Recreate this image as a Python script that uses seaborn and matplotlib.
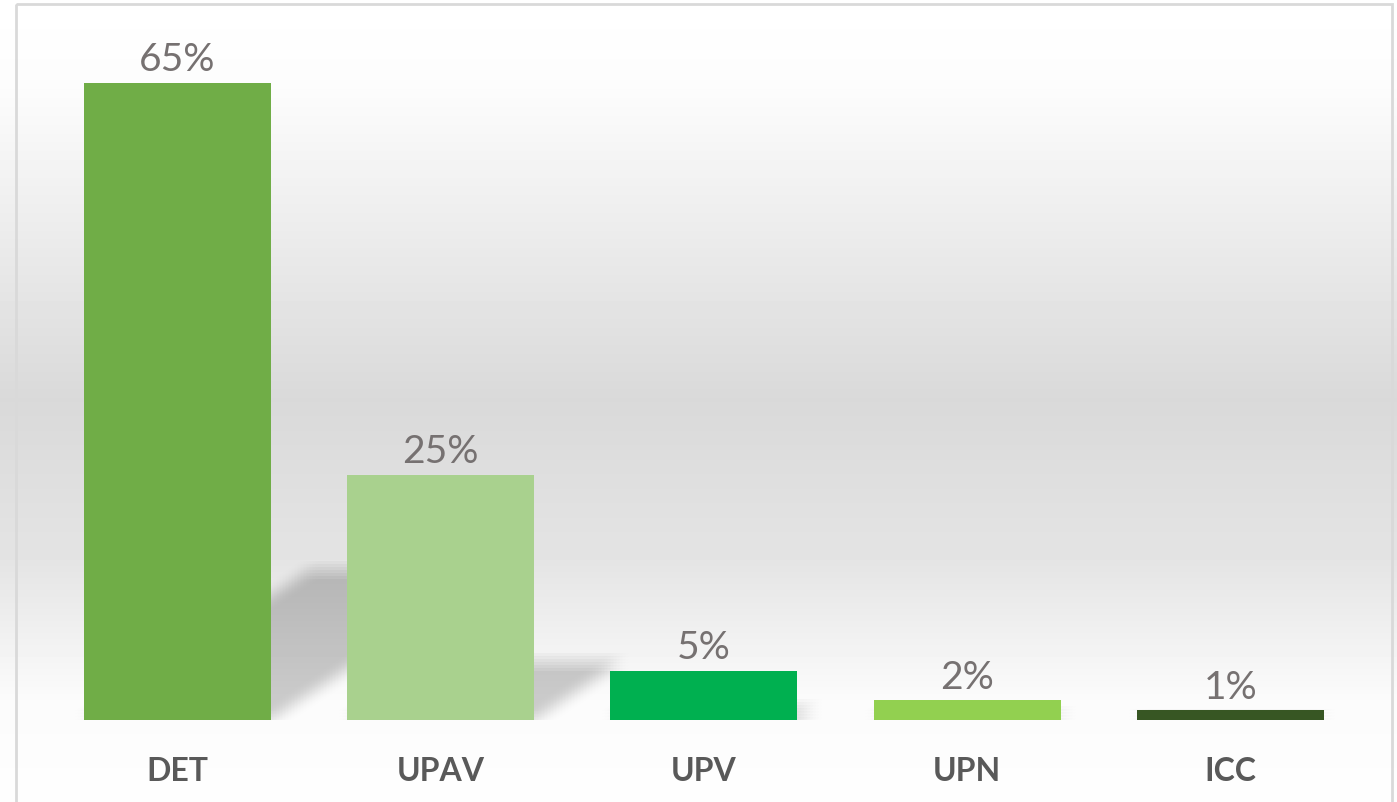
import numpy as np
import pandas as pd
import matplotlib
matplotlib.use('Agg')
import matplotlib.pyplot as plt
import matplotlib.transforms as mtransforms
from matplotlib.patches import Polygon, Rectangle
import seaborn as sns

# ---------------- DATOS ----------------
categorias = ['DET', 'UPAV', 'UPV', 'UPN', 'ICC']
porcentajes = [65, 25, 5, 2, 1]
colores = ['#70ad47', '#a9d18e', '#00b050', '#92d050', '#375623']

df = pd.DataFrame({'categoria': categorias, 'pct': porcentajes})

sns.set_style('white')
plt.rcParams['font.family'] = ['Lato', 'DejaVu Sans']

W, H = 1397, 803
fig = plt.figure(figsize=(W / 100, H / 100), dpi=100)
fig.patch.set_facecolor('white')

# ---------------- FONDO CON DEGRADADO ----------------
bg = fig.add_axes([0, 0, 1, 1], zorder=-2)
ys = np.arange(H)
perfil = np.interp(ys, [0, 90, 400, 560, 700, 803], [255, 252, 217, 228, 251, 254]) / 255.0
img = np.repeat(perfil[:, None], 2, axis=1)
bg.imshow(img, cmap='gray', vmin=0, vmax=1, aspect='auto', extent=(0, W, H, 0))
bg.add_patch(Rectangle((16, 5), 1376, 820, fill=False, edgecolor='#d9d9d9', linewidth=2))
bg.set_xlim(0, W)
bg.set_ylim(H, 0)
bg.axis('off')

# ---------------- GRAFICO ----------------
ax = fig.add_axes([45.5 / W, 82 / H, 1316.5 / W, 686 / H])
ax.set_facecolor('none')
ancho = 0.71
sns.barplot(data=df, x='categoria', y='pct', hue='categoria', palette=colores,
            width=ancho, saturation=1, legend=False, ax=ax, zorder=3, linewidth=0)
ax.set_xlim(-0.5, len(categorias) - 0.5)
ax.set_ylim(0, 70)

# sombras en perspectiva (difuminadas)
offs = np.linspace(-9, 9, 7)
a = 1 - 0.8 ** (1 / (len(offs) ** 2))
for i, v in enumerate(porcentajes):
    h = 0.235 * v
    s = h * 0.056
    x0, x1 = i - ancho / 2, i + ancho / 2
    pts = [(x0, 0), (x1, 0), (x1 + s, h), (x0 + s, h)]
    for dx in offs:
        for dy in offs:
            tr = mtransforms.offset_copy(ax.transData, fig=fig, x=dx, y=dy, units='dots')
            ax.add_patch(Polygon(pts, closed=True, facecolor='black', alpha=a,
                                 edgecolor='none', transform=tr, zorder=1))

for cont in ax.containers:
    ax.bar_label(cont, fmt='%d%%', padding=4, fontsize=28, color='#767171')

ax.set_xlabel('')
ax.set_ylabel('')
ax.set_yticks([])
ax.tick_params(axis='x', length=0, pad=26, labelsize=23, labelcolor='#595959')
for lbl in ax.get_xticklabels():
    lbl.set_fontweight('bold')
sns.despine(ax=ax, left=True, bottom=True)

plt.savefig('out.png', dpi=100)
